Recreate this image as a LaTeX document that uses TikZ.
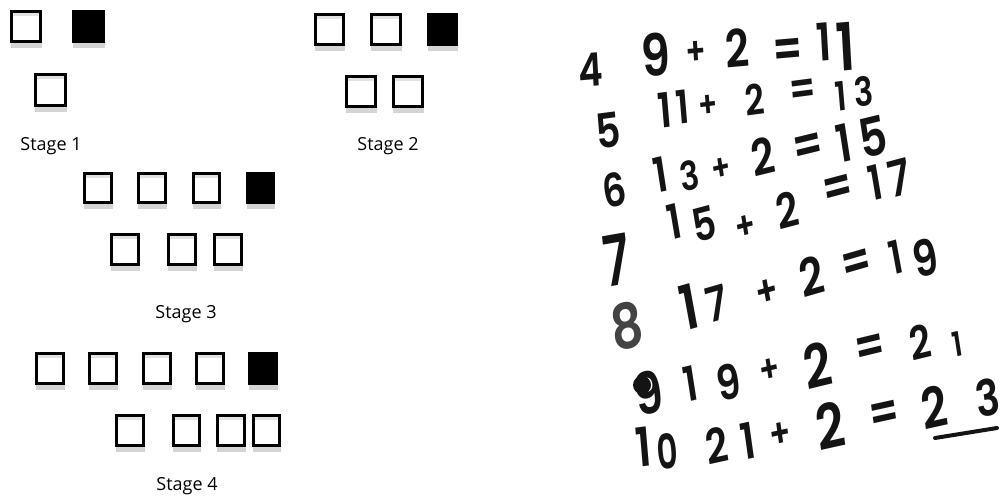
\documentclass[tikz,border=0pt]{standalone}
\usepackage{fontspec}
\setmainfont{Open Sans}
\newfontfamily\handfont{Poppins}[UprightFont={* SemiBold}]
\newcommand{\handsz}[1]{\handfont\fontsize{#1}{#1}\selectfont}
\definecolor{shadowc}{HTML}{D4D4D4}
\definecolor{bandc}{HTML}{E2E2E2}
\definecolor{ink}{HTML}{141414}
% white square: x1,y1,x2,y2 (outer)
\newcommand{\wsq}[4]{%
  \fill[shadowc] (#1+1,#4) rectangle (#3,#4+5);
  \fill[white] (#1,#2) rectangle (#3,#4);
  \fill[bandc] (#1+3,#2+3) rectangle (#3-3,#2+6);
  \draw[line width=3pt] (#1+1.5,#2+1.5) rectangle (#3-1.5,#4-1.5);}
\newcommand{\bsq}[4]{%
  \fill[shadowc] (#1+1,#4) rectangle (#3,#4+5);
  \fill[black] (#1,#2) rectangle (#3,#4);}
\newcommand{\hd}[6][]{\node[hand,rotate=#5,#1] (#2) at (#3,#4) {#6};}
\begin{document}
\begin{tikzpicture}[x=1pt,y=-1pt,
  lbl/.style={inner sep=0,font=\fontsize{18}{21}\selectfont},
  hand/.style={inner sep=0,text=ink,xscale=0.8,font=\handsz{52}}]
\useasboundingbox (0,0) rectangle (1007,500);
% ---------- Stage 1
\wsq{10}{10}{42}{43}
\bsq{72}{10}{105}{43}
\wsq{34}{73}{67}{107}
\node[lbl] (s1) at (51,146) {Stage 1};
% ---------- Stage 2
\wsq{314}{13}{345}{46}
\wsq{370}{13}{402}{46}
\bsq{427}{13}{458}{46}
\wsq{345}{75}{377}{108}
\wsq{392}{75}{424}{108}
\node[lbl] (s2) at (388,146) {Stage 2};
% ---------- Stage 3
\wsq{83}{172}{113}{204}
\wsq{137}{172}{167}{204}
\wsq{192}{172}{221}{204}
\bsq{246}{172}{275}{204}
\wsq{110}{233}{140}{266}
\wsq{167}{233}{197}{266}
\wsq{213}{233}{243}{266}
\node[lbl] (s3) at (186,314) {Stage 3};
% ---------- Stage 4
\wsq{35}{352}{65}{385}
\wsq{88}{352}{118}{385}
\wsq{142}{352}{172}{385}
\wsq{195}{352}{225}{385}
\bsq{248}{352}{278}{385}
\wsq{115}{414}{145}{447}
\wsq{172}{414}{201}{447}
\wsq{216}{414}{246}{447}
\wsq{252}{414}{281}{447}
\node[lbl] (s4) at (187,486) {Stage 4};
% ---------- handwriting
% line 1
\hd[font=\handsz{46}]{a0}{591}{70}{4}{4}
\hd[font=\handsz{58}]{a1}{656}{55}{4}{9}
\hd[font=\handsz{38}]{a2}{696}{53}{4}{+}
\hd{a3}{737}{48}{4}{2}
\hd{a4}{788}{53}{4}{=}
\hd{a5}{824}{42}{4}{1}
\hd[font=\handsz{66}]{a6}{846}{47}{4}{1}
% line 2
\hd[font=\handsz{48}]{b0}{608}{130}{6}{5}
\hd[font=\handsz{48}]{b1}{665}{110}{6}{1}
\hd[font=\handsz{46}]{b2}{683}{107}{6}{1}
\hd[font=\handsz{36}]{b3}{708}{106}{6}{+}
\hd[font=\handsz{42}]{b4}{755}{100}{6}{2}
\hd[font=\handsz{46}]{b5}{803}{92}{6}{=}
\hd[font=\handsz{40}]{b6}{841}{96}{6}{1}
\hd[font=\handsz{40}]{b7}{864}{92}{6}{3}
% line 3
\hd[font=\handsz{46}]{c0}{614}{190}{11}{6}
\hd[font=\handsz{48}]{c1}{661}{175}{11}{1}
\hd[font=\handsz{40}]{c2}{690}{176}{11}{3}
\hd[font=\handsz{36}]{c3}{721}{169}{11}{+}
\hd[font=\handsz{50}]{c4}{763}{156}{11}{2}
\hd{c5}{808}{149}{11}{=}
\hd[font=\handsz{52}]{c6}{844}{143}{11}{1}
\hd[font=\handsz{54}]{c7}{873}{137}{11}{5}
% line 4
\hd[font=\handsz{70},xscale=0.85]{d0}{617}{260}{8}{7}
\hd[font=\handsz{48}]{d1}{674}{222}{12}{1}
\hd[font=\handsz{46}]{d2}{704}{224}{12}{5}
\hd[font=\handsz{38}]{d3}{746}{227}{12}{+}
\hd[font=\handsz{48}]{d4}{787}{210}{12}{2}
\hd{d5}{838}{191}{12}{=}
\hd[font=\handsz{48}]{d6}{875}{183}{12}{1}
\hd[font=\handsz{50}]{d7}{899}{178}{12}{7}
% line 5
\hd[font=\handsz{62},text=ink!80]{e0}{627}{326}{10}{8}
\hd[font=\handsz{62}]{e1}{689}{307}{13}{1}
\hd[font=\handsz{48}]{e2}{717}{304}{13}{7}
\hd[font=\handsz{42}]{e3}{767}{293}{13}{+}
\hd{e4}{812}{276}{13}{2}
\hd{e5}{857}{266}{13}{=}
\hd[font=\handsz{46}]{e6}{896}{257}{13}{1}
\hd[font=\handsz{50}]{e7}{925}{258}{13}{9}
% line 6
\hd[font=\handsz{58}]{f0}{648}{393}{11}{9}
\fill[ink] (642,385) circle (9);
\hd[font=\handsz{48}]{f1}{691}{384}{11}{1}
\hd[font=\handsz{48}]{f2}{729}{382}{11}{9}
\hd[font=\handsz{38}]{f3}{770}{371}{11}{+}
\hd[font=\handsz{60}]{f4}{818}{365}{11}{2}
\hd{f5}{870}{350}{11}{=}
\hd[font=\handsz{46}]{f6}{920}{342}{11}{2}
\hd[font=\handsz{34}]{f7}{957}{344}{11}{1}
% line 7
\hd[font=\handsz{54}]{g0}{644}{447}{6}{1}
\hd[font=\handsz{48},xscale=0.85]{g1}{667}{451}{6}{0}
\hd[font=\handsz{48}]{g2}{717}{445}{10}{2}
\hd[font=\handsz{50}]{g3}{748}{441}{10}{1}
\hd[font=\handsz{40}]{g4}{780}{435}{10}{+}
\hd[font=\handsz{62}]{g5}{830}{426}{10}{2}
\hd{g6}{885}{416}{10}{=}
\hd[font=\handsz{56}]{g7}{934}{407}{10}{2}
\hd[font=\handsz{50}]{g8}{988}{398}{10}{3}
\coordinate (u1) at (935,438);
\coordinate (u2) at (997,428);
\draw[ink,line width=4pt,line cap=round] (u1) -- (u2);
\end{tikzpicture}
\end{document}
